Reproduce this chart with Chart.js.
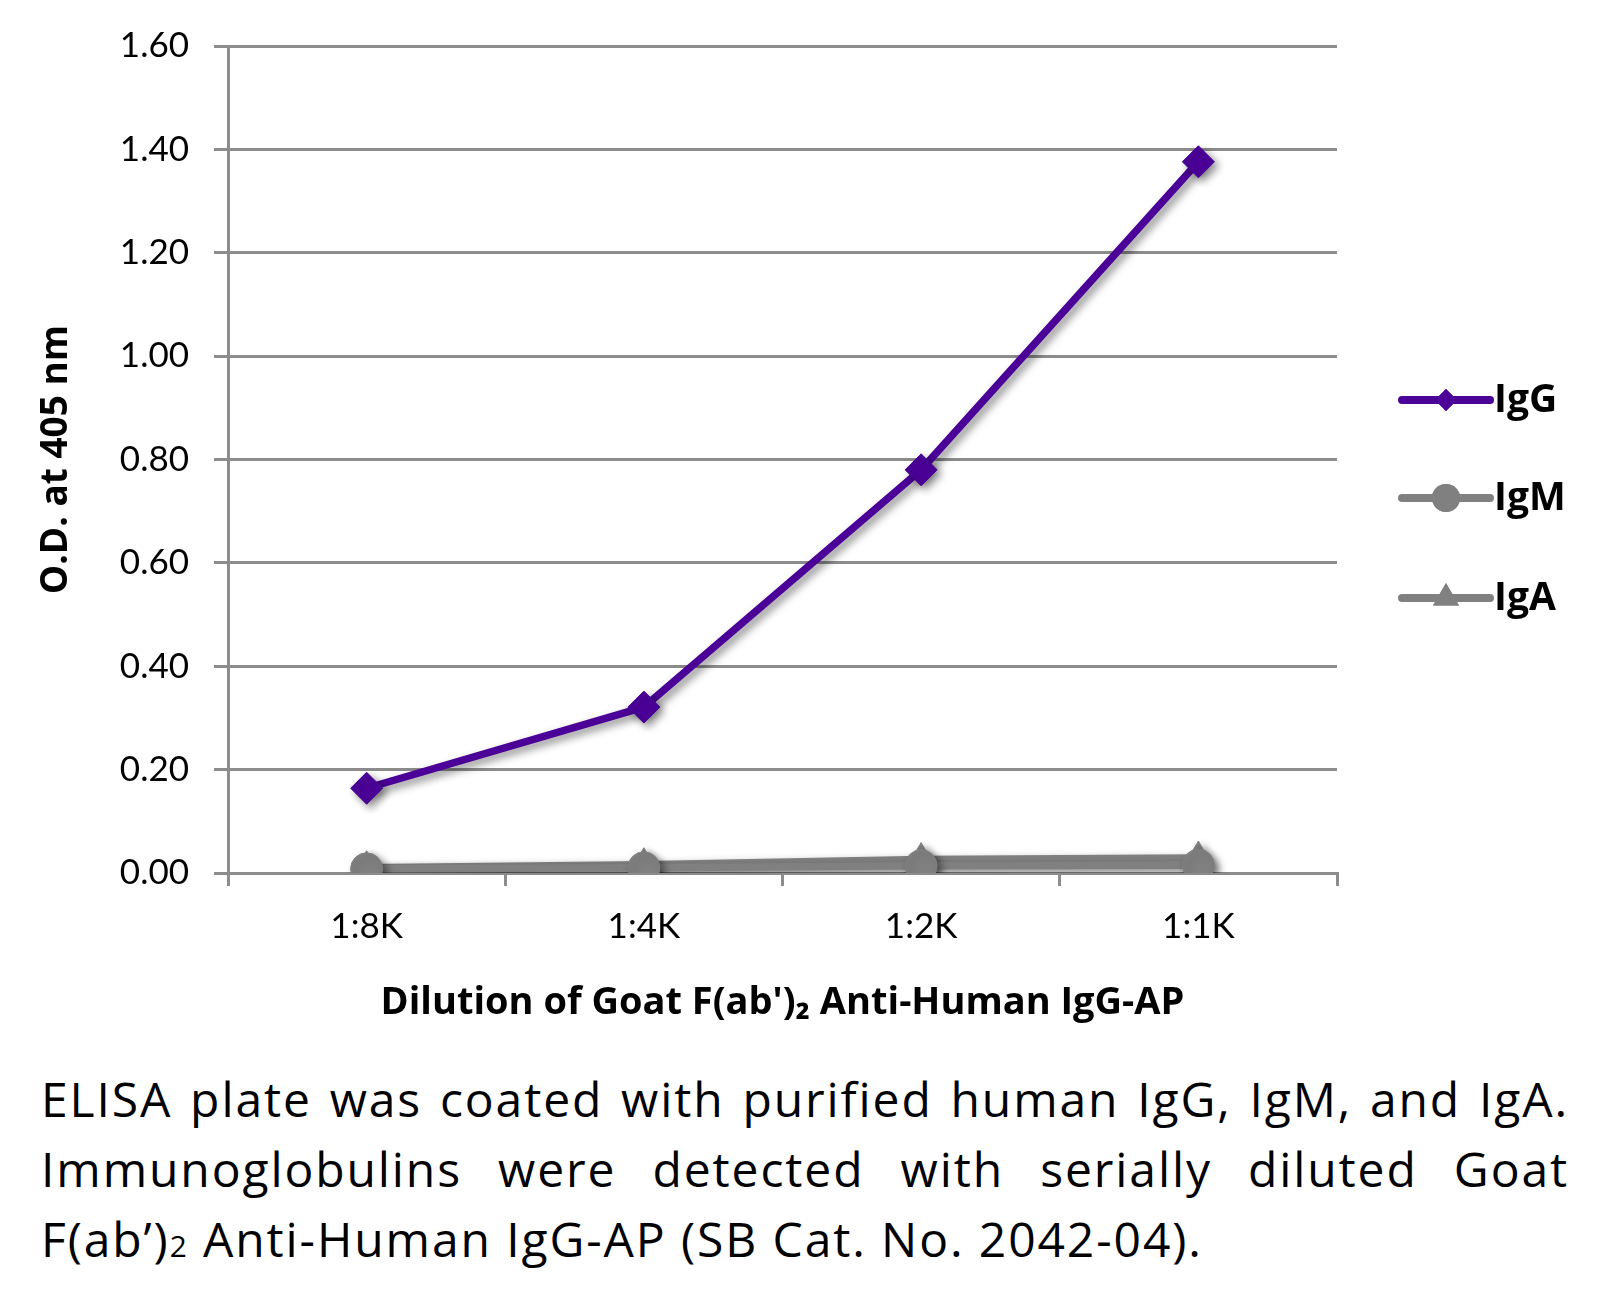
<!DOCTYPE html>
<html lang="en">
<head>
  <meta charset="UTF-8" />
  <title>ELISA - Goat F(ab')2 Anti-Human IgG-AP</title>
  <script src="https://cdn.jsdelivr.net/npm/chart.js@4.4.1/dist/chart.umd.min.js"></script>
  <style>
    *{margin:0;padding:0;box-sizing:border-box}
    body{background:#fff;width:1605px;height:1306px;position:relative;overflow:hidden;font-family:"Open Sans","Noto Sans",sans-serif;color:#000}
    #wrap{position:absolute;left:0;top:0;width:1605px;height:1040px}
    .caption{position:absolute;left:41px;top:1064px;width:1528px;font-size:48px;line-height:70px;letter-spacing:1.9px}
    .caption .j{text-align:justify;text-align-last:justify}
    .caption .sm{font-size:.62em}
  </style>
</head>
<body>
  <div id="wrap"><canvas id="elisa" width="1605" height="1040"></canvas></div>

  <div class="caption">
    <div class="j">ELISA plate was coated with purified human IgG, IgM, and IgA.</div>
    <div class="j">Immunoglobulins were detected with serially diluted Goat</div>
    <div>F(ab’)<span class="sm">2</span> Anti-Human IgG-AP (SB Cat. No. 2042-04).</div>
  </div>

  <script>
    // data
    const dilutions = ['1:8K', '1:4K', '1:2K', '1:1K'];
    const igG = [0.164, 0.321, 0.780, 1.376];
    const igM = [0.008, 0.010, 0.014, 0.015];
    const igA = [0.010, 0.016, 0.026, 0.029];
    const yTicks = [0, 0.2, 0.4, 0.6, 0.8, 1.0, 1.2, 1.4, 1.6];

    const purple = '#4b0098';
    const grey = '#808080';
    const gridGrey = '#8c8c8c';
    const tickFont = 'Lato, "Noto Sans", sans-serif';
    const boldFont = '"Open Sans", "Noto Sans", sans-serif';

    // soft drop shadow under lines and markers
    const shadow = {
      id: 'shadow',
      beforeDatasetsDraw(chart){
        const c = chart.ctx;
        c.save();
        c.shadowColor = 'rgba(0,0,0,0.45)';
        c.shadowBlur = 8;
        c.shadowOffsetX = 4;
        c.shadowOffsetY = 4;
      },
      afterDatasetsDraw(chart){ chart.ctx.restore(); }
    };

    // legend on the right: line with marker, bold label
    const sideLegend = {
      id: 'sideLegend',
      afterDraw(chart){
        const c = chart.ctx;
        const rows = [400, 498, 598];
        const sizes = [11, 14, 15];
        chart.data.datasets.forEach((ds, i) => {
          const y = rows[i];
          c.save();
          c.strokeStyle = ds.borderColor;
          c.lineWidth = 8;
          c.lineCap = 'round';
          c.beginPath(); c.moveTo(1402, y); c.lineTo(1490, y); c.stroke();
          c.fillStyle = ds.borderColor;
          Chart.helpers.drawPoint(c, {pointStyle: ds.pointStyle, radius: sizes[i], borderWidth: 0}, 1446, y);
          c.fill();
          c.fillStyle = '#000';
          c.font = 'bold 39px ' + boldFont;
          c.textBaseline = 'middle';
          c.fillText(ds.label, 1494, y + 1);
          c.restore();
        });
      }
    };

    const line = (label, data, color, style, r) => ({
      label, data,
      borderColor: color, backgroundColor: color,
      borderWidth: 7.5,
      pointStyle: style, pointRadius: r, pointHoverRadius: r,
      pointBackgroundColor: color, pointBorderColor: color, pointBorderWidth: 1,
      tension: 0
    });

    new Chart(document.getElementById('elisa'), {
      type: 'line',
      data: {
        labels: dilutions,
        datasets: [
          line('IgG', igG, purple, 'rectRot', 16),
          line('IgM', igM, grey, 'circle', 16),
          line('IgA', igA, grey, 'triangle', 17)
        ]
      },
      options: {
        responsive: false,
        devicePixelRatio: 1,
        animation: false,
        layout: {padding: {left: 0, right: 268, top: 46, bottom: 0}},
        plugins: {legend: {display: false}, tooltip: {enabled: false}},
        scales: {
          x: {
            offset: true,
            afterFit: s => { s.height = 167; },
            grid: {offset: true, drawOnChartArea: false, drawTicks: true, tickLength: 13, color: gridGrey, lineWidth: 3},
            border: {display: true, color: gridGrey, width: 3},
            ticks: {color: '#000', font: {family: tickFont, size: 35}, padding: 20},
            title: {display: true, text: 'Dilution of Goat F(ab\')₂ Anti-Human IgG-AP', color: '#000',
                    font: {family: boldFont, size: 38, weight: 'bold'}, padding: {top: 0, bottom: 14}}
          },
          y: {
            min: 0, max: 1.6,
            afterFit: s => { s.width = 228; },
            afterBuildTicks: s => { s.ticks = yTicks.map(v => ({value: v})); },
            grid: {color: gridGrey, lineWidth: 3, drawTicks: true, tickLength: 14},
            border: {display: true, color: gridGrey, width: 3},
            ticks: {color: '#000', font: {family: tickFont, size: 35}, padding: 25, callback: v => Number(v).toFixed(2)},
            title: {display: true, text: 'O.D. at 405 nm', color: '#000',
                    font: {family: boldFont, size: 37, weight: 'bold'}, padding: {top: 34, bottom: 0}}
          }
        }
      },
      plugins: [shadow, sideLegend]
    });
  </script>
</body>
</html>
